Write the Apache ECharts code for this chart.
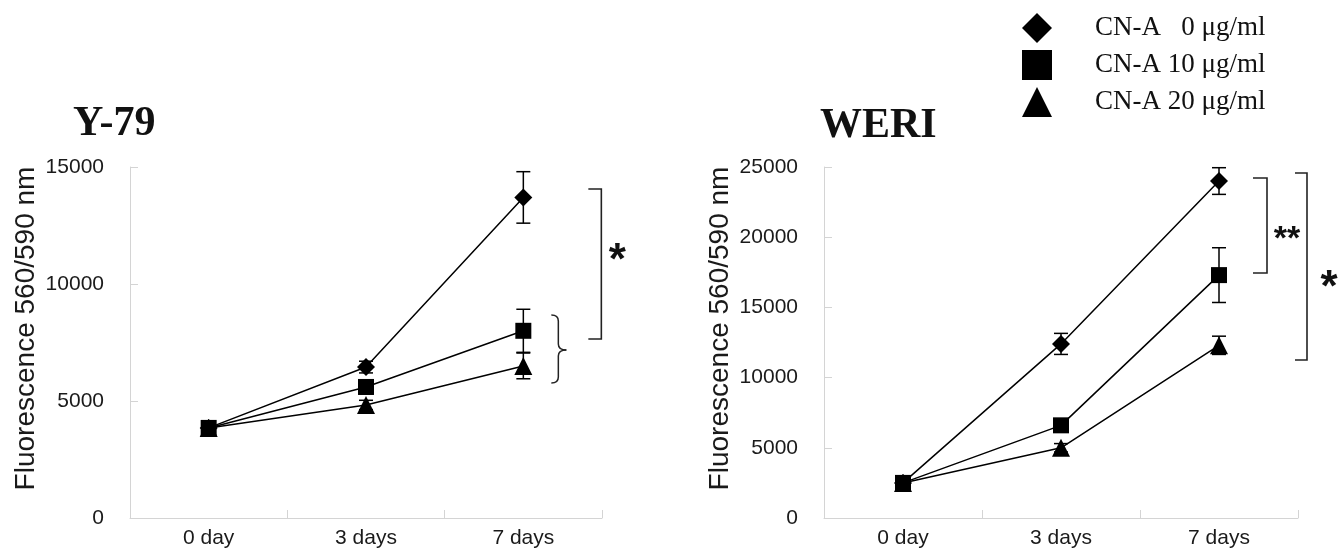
<!DOCTYPE html>
<html>
<head>
<meta charset="utf-8">
<script src="https://cdn.jsdelivr.net/npm/echarts@6/dist/echarts.min.js"></script>
<style>
html,body{margin:0;padding:0;background:#fff;}
#chart{width:1339px;height:550px;}
</style>
</head>
<body>
<div id="chart"></div>
<script>
// ---------- data ----------
const categories = ['0 day', '3 days', '7 days'];
const seriesNames = ['CN-A   0 \u03bcg/ml', 'CN-A 10 \u03bcg/ml', 'CN-A 20 \u03bcg/ml'];
const yAxisName = 'Fluorescence 560/590 nm';

// Y-79 panel
const y79Title = 'Y-79';
const y79_cn0  = [3850, 6450, 13700];
const y79_cn10 = [3850, 5600, 8000];
const y79_cn20 = [3850, 4830, 6500];
const y79_err0  = [0, 250, 1100];
const y79_err10 = [0, 300, 920];
const y79_err20 = [0, 200, 550];
const y79Max = 15000;
const y79Interval = 5000;
const y79Bracket = [14060, 7650];       // 0 vs 10/20
const y79BracketLabel = '*';
const y79Star = 11320;
const y79Brace = [8680, 7180, 5770];    // top, tip, bottom

// WERI panel
const weriTitle = 'WERI';
const weri_cn0  = [2500, 12400, 24000];
const weri_cn10 = [2500, 6600, 17300];
const weri_cn20 = [2500, 5000, 12300];
const weri_err0  = [0, 750, 950];
const weri_err10 = [0, 250, 1950];
const weri_err20 = [0, 300, 650];
const weriMax = 25000;
const weriInterval = 5000;
const weriBracketA = [24220, 17450];    // 0 vs 10
const weriBracketALabel = '**';
const weriStarA = 20300;
const weriBracketB = [24570, 11250];    // 0 vs 20
const weriBracketBLabel = '*';
const weriStarB = 16950;

// ---------- helpers ----------
const symbols = ['diamond', 'rect', 'triangle'];
const symbolSizes = [18, 16, 18];
const axisGray = '#d4d4d4';
const textDark = '#1a1a1a';

function lineSeries(name, values, idx, gi) {
  return {
    name: name, type: 'line', xAxisIndex: gi, yAxisIndex: gi,
    data: values, symbol: symbols[idx], symbolSize: symbolSizes[idx],
    showSymbol: true, z: 5,
    lineStyle: {color: '#000', width: 1.5},
    itemStyle: {color: '#000'},
    emphasis: {disabled: true}, animation: false
  };
}

function errData(values, errs) {
  return values.map((v, i) => [i, v - errs[i], v + errs[i]]).filter((d, i) => errs[i] > 0);
}

function errSeries(gi, data) {
  return {
    type: 'custom', xAxisIndex: gi, yAxisIndex: gi, z: 4, animation: false,
    data: data, encode: {x: 0, y: [1, 2]},
    renderItem: function (params, api) {
      const x = api.value(0);
      const lo = api.coord([x, api.value(1)]);
      const hi = api.coord([x, api.value(2)]);
      const hw = 7;
      const st = {stroke: '#000', lineWidth: 1.5};
      return {type: 'group', children: [
        {type: 'line', shape: {x1: lo[0], y1: lo[1], x2: hi[0], y2: hi[1]}, style: st},
        {type: 'line', shape: {x1: lo[0] - hw, y1: lo[1], x2: lo[0] + hw, y2: lo[1]}, style: st},
        {type: 'line', shape: {x1: hi[0] - hw, y1: hi[1], x2: hi[0] + hw, y2: hi[1]}, style: st}
      ]};
    }
  };
}

// annotation: bracket [top,bottom] drawn at category 2 with pixel offset
function bracketEls(api, top, bottom, dx, tick) {
  const a = api.coord([2, top]);
  const b = api.coord([2, bottom]);
  const x = a[0] + dx;
  return {type: 'polyline', shape: {points: [[x - tick, a[1]], [x, a[1]], [x, b[1]], [x - tick, b[1]]]},
          style: {stroke: '#222', lineWidth: 1.6, fill: null}};
}
function starEl(api, val, dx, txt, size, dy) {
  const p = api.coord([2, val]);
  return {type: 'text', x: p[0] + dx, y: p[1] + dy,
          style: {text: txt, fontSize: size, fontWeight: 'bold', fontFamily: 'Liberation Sans, Arial',
                  fill: '#111', align: 'center', verticalAlign: 'middle'}};
}
function braceEls(api, vals, dx) {
  const t = api.coord([2, vals[0]]), m = api.coord([2, vals[1]]), b = api.coord([2, vals[2]]);
  const x0 = t[0] + dx, xm = x0 + 7, xt = x0 + 15, r = 6;
  const st = {stroke: '#222', lineWidth: 1.5, fill: null};
  return [
    {type: 'bezierCurve', shape: {x1: x0, y1: t[1], x2: xm, y2: t[1] + r, cpx1: xm, cpy1: t[1]}, style: st},
    {type: 'line', shape: {x1: xm, y1: t[1] + r, x2: xm, y2: m[1] - r}, style: st},
    {type: 'bezierCurve', shape: {x1: xm, y1: m[1] - r, x2: xt, y2: m[1], cpx1: xm, cpy1: m[1]}, style: st},
    {type: 'bezierCurve', shape: {x1: xt, y1: m[1], x2: xm, y2: m[1] + r, cpx1: xm, cpy1: m[1]}, style: st},
    {type: 'line', shape: {x1: xm, y1: m[1] + r, x2: xm, y2: b[1] - r}, style: st},
    {type: 'bezierCurve', shape: {x1: xm, y1: b[1] - r, x2: x0, y2: b[1], cpx1: xm, cpy1: b[1]}, style: st}
  ];
}

function xAxisCfg(gi) {
  return {
    gridIndex: gi, type: 'category', data: categories, boundaryGap: true,
    axisLine: {show: true, lineStyle: {color: axisGray, width: 1}},
    axisTick: {show: true, inside: true, length: 8, lineStyle: {color: axisGray}},
    axisLabel: {fontSize: 21, color: textDark, margin: 10, fontFamily: 'Liberation Sans, Arial'},
    splitLine: {show: false}
  };
}
function yAxisCfg(gi, max, interval) {
  return {
    gridIndex: gi, type: 'value', min: 0, max: max, interval: interval,
    name: yAxisName, nameLocation: 'middle', nameGap: 90, nameRotate: 90,
    nameTextStyle: {fontSize: 28, color: textDark, fontFamily: 'Liberation Sans, Arial', padding: [0, 0, 0, 28]},
    axisLine: {show: true, lineStyle: {color: axisGray, width: 1}},
    axisTick: {show: true, inside: true, length: 8, lineStyle: {color: axisGray}},
    axisLabel: {fontSize: 21, color: textDark, margin: 26, fontFamily: 'Liberation Sans, Arial',
                padding: [12, 0, 0, 0], formatter: function (v) { return String(v); }},
    splitLine: {show: false}
  };
}

const option = {
  backgroundColor: '#fff',
  animation: false,
  title: [
    {text: y79Title, left: 68, top: 98, textStyle: {fontFamily: 'Liberation Serif', fontWeight: 'bold', fontSize: 42, color: '#111'}},
    {text: weriTitle, left: 815, top: 100, textStyle: {fontFamily: 'Liberation Serif', fontWeight: 'bold', fontSize: 42, color: '#111'}}
  ],
  legend: {
    orient: 'vertical', left: 1017, top: 8,
    itemWidth: 30, itemHeight: 30, itemGap: 7,
    selectedMode: false,
    data: seriesNames.map((n, i) => ({name: n, icon: symbols[i]})),
    itemStyle: {color: '#000'},
    textStyle: {fontFamily: 'Liberation Serif', fontSize: 27, color: '#111', padding: [0, 0, 0, 38]}
  },
  grid: [
    {left: 130, top: 167, width: 472, height: 351},
    {left: 824, top: 167, width: 474, height: 351}
  ],
  xAxis: [xAxisCfg(0), xAxisCfg(1)],
  yAxis: [yAxisCfg(0, y79Max, y79Interval), yAxisCfg(1, weriMax, weriInterval)],
  series: [
    lineSeries(seriesNames[0], y79_cn0, 0, 0),
    lineSeries(seriesNames[1], y79_cn10, 1, 0),
    lineSeries(seriesNames[2], y79_cn20, 2, 0),
    lineSeries(seriesNames[0], weri_cn0, 0, 1),
    lineSeries(seriesNames[1], weri_cn10, 1, 1),
    lineSeries(seriesNames[2], weri_cn20, 2, 1),
    errSeries(0, [].concat(errData(y79_cn0, y79_err0), errData(y79_cn10, y79_err10), errData(y79_cn20, y79_err20))),
    errSeries(1, [].concat(errData(weri_cn0, weri_err0), errData(weri_cn10, weri_err10), errData(weri_cn20, weri_err20))),
    {
      type: 'custom', xAxisIndex: 0, yAxisIndex: 0, z: 3, animation: false, clip: false,
      data: [[2, y79Bracket[0], y79Bracket[1]]], encode: {x: 0, y: [1, 2]},
      renderItem: function (params, api) {
        return {type: 'group', children: [
          bracketEls(api, y79Bracket[0], y79Bracket[1], 78, 13),
          starEl(api, y79Star, 94, y79BracketLabel, 44, 9)
        ].concat(braceEls(api, y79Brace, 28))};
      }
    },
    {
      type: 'custom', xAxisIndex: 1, yAxisIndex: 1, z: 3, animation: false, clip: false,
      data: [[2, weriBracketB[0], weriBracketB[1]]], encode: {x: 0, y: [1, 2]},
      renderItem: function (params, api) {
        return {type: 'group', children: [
          bracketEls(api, weriBracketA[0], weriBracketA[1], 48, 14),
          starEl(api, weriStarA, 68, weriBracketALabel, 34, 7),
          bracketEls(api, weriBracketB[0], weriBracketB[1], 88, 12),
          starEl(api, weriStarB, 110, weriBracketBLabel, 44, 9)
        ]};
      }
    }
  ]
};

const chart = echarts.init(document.getElementById('chart'), null, {renderer: 'canvas'});
chart.setOption(option);
</script>
</body>
</html>
